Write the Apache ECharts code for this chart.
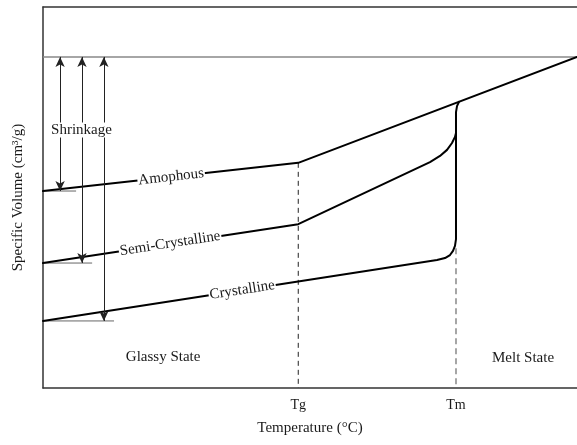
<!DOCTYPE html>
<html>
<head>
<meta charset="utf-8">
<script src="https://cdn.jsdelivr.net/npm/echarts@6/dist/echarts.min.js"></script>
<style>
  html, body { margin: 0; padding: 0; background: #fff; }
  #chart { width: 577px; height: 445px; }
</style>
</head>
<body>
<div id="chart"></div>
<script>
// Schematic specific volume vs. temperature (arbitrary units, 0–100 on both axes)
const tickValues = [47.8, 77.34];
const tickLabels = ['Tg', 'Tm'];

const meltLevel = 86.9;

const amorphousT = [0, 47.8, 100];
const amorphousV = [51.7, 59.1, 86.9];

const semiT = [0, 47.8, 72.47, 74.34, 75.66, 76.59, 77.15, 77.34];
const semiV = [32.8, 43.0, 59.3, 60.9, 62.5, 64.3, 65.9, 66.9];

const crystalT = [0, 73.78, 75.28, 76.22, 76.78, 77.15, 77.34, 77.34, 77.53, 77.9];
const crystalV = [17.6, 33.6, 34.1, 34.9, 36.0, 37.3, 39.1, 72.4, 74.0, 75.1];

// shrinkage arrows: x position and end of the short baseline tick
const arrowT = [3.2, 7.3, 11.4];
const baseTickEnd = [6.2, 9.2, 13.3];
const baseV = [amorphousV[0], semiV[0], crystalV[0]];

const tgDashTop = 59.1;
const tmDashTop = 36.7;

const annotations = [
  { name: 'Shrinkage', t: 7.2, v: 67.7, rotate: 0 },
  { name: 'Amophous', t: 24.0, v: 55.4, rotate: 6.3 },
  { name: 'Semi-Crystalline', t: 23.8, v: 37.9, rotate: 8.7 },
  { name: 'Crystalline', t: 37.3, v: 25.7, rotate: 8.8 },
  { name: 'Glassy State', t: 22.5, v: 8.1, rotate: 0 },
  { name: 'Melt State', t: 89.9, v: 7.9, rotate: 0 }
];

const FONT = 'Liberation Serif';
const TEXT = '#1a1a1a';
const zip = (a, b) => a.map((x, i) => [x, b[i]]);

const curve = (name, xs, ys) => ({
  name, type: 'line', data: zip(xs, ys), showSymbol: false, symbol: 'none',
  smooth: false, silent: true, z: 3,
  lineStyle: { color: '#000', width: 2, join: 'round', cap: 'round' }
});

const chart = echarts.init(document.getElementById('chart'), null, { renderer: 'canvas' });

chart.setOption({
  backgroundColor: '#fff',
  animation: false,
  textStyle: { fontFamily: FONT },
  grid: { left: 43, right: 0, top: 7, bottom: 57 },
  xAxis: [{
    type: 'value', min: 0, max: 100, position: 'bottom',
    name: 'Temperature (°C)', nameLocation: 'middle', nameGap: 33,
    nameTextStyle: { fontFamily: FONT, fontSize: 15, color: TEXT },
    axisLine: { show: true, lineStyle: { color: '#333', width: 1.5 } },
    axisTick: { show: false },
    splitLine: { show: false },
    axisLabel: {
      customValues: tickValues,
      formatter: (val) => {
        const i = tickValues.findIndex(t => Math.abs(t - val) < 1e-6);
        return i >= 0 ? tickLabels[i] : '';
      },
      fontFamily: FONT, fontSize: 14, color: TEXT, margin: 10
    }
  }, {
    type: 'value', min: 0, max: 100, position: 'top',
    axisLine: { show: true, lineStyle: { color: '#333', width: 1.5 } },
    axisTick: { show: false }, axisLabel: { show: false }, splitLine: { show: false }
  }],
  yAxis: {
    type: 'value', min: 0, max: 100,
    name: 'Specific Volume (cm³/g)', nameLocation: 'middle', nameGap: 17,
    nameTextStyle: { fontFamily: FONT, fontSize: 15, color: TEXT },
    axisLine: { show: true, lineStyle: { color: '#333', width: 1.5 } },
    axisTick: { show: false }, axisLabel: { show: false }, splitLine: { show: false }
  },
  series: [
    // melt-volume reference line
    {
      type: 'line', data: [[0, meltLevel], [100, meltLevel]], showSymbol: false,
      symbol: 'none', silent: true, z: 1,
      lineStyle: { color: '#888', width: 1.5 }
    },
    // baseline ticks at the glassy volumes
    ...baseV.map((v, i) => ({
      type: 'line', data: [[0, v], [baseTickEnd[i], v]], showSymbol: false,
      symbol: 'none', silent: true, z: 1,
      lineStyle: { color: '#666', width: 1 }
    })),
    // Tg and Tm guides
    {
      type: 'line', data: [[tickValues[0], tgDashTop], [tickValues[0], 0]], showSymbol: false,
      symbol: 'none', silent: true, z: 1,
      lineStyle: { color: '#222', width: 1, type: [5, 4] }
    },
    {
      type: 'line', data: [[tickValues[1], tmDashTop], [tickValues[1], 0]], showSymbol: false,
      symbol: 'none', silent: true, z: 1,
      lineStyle: { color: '#888', width: 1.5, type: [6, 4] }
    },
    curve('Amophous', amorphousT, amorphousV),
    curve('Semi-Crystalline', semiT, semiV),
    curve('Crystalline', crystalT, crystalV),
    // shrinkage arrows
    {
      type: 'line', data: [], silent: true, z: 2,
      markLine: {
        silent: true, animation: false,
        symbol: ['arrow', 'arrow'], symbolSize: [7, 10],
        label: { show: false },
        lineStyle: { color: '#222', width: 1, type: 'solid' },
        data: arrowT.map((t, i) => [{ coord: [t, meltLevel] }, { coord: [t, baseV[i]] }])
      }
    },
    // text annotations
    {
      type: 'scatter', silent: true, z: 5, symbolSize: 0,
      itemStyle: { color: '#fff', opacity: 1 },
      data: annotations.map(a => ({
        value: [a.t, a.v], name: a.name,
        label: { rotate: a.rotate }
      })),
      label: {
        show: true, position: 'inside', formatter: '{b}', opacity: 1,
        fontFamily: FONT, fontSize: 15, color: TEXT,
        textBorderWidth: 0, textBorderColor: 'transparent',
        backgroundColor: '#fff', padding: [0, 1]
      }
    }
  ]
});
</script>
</body>
</html>
